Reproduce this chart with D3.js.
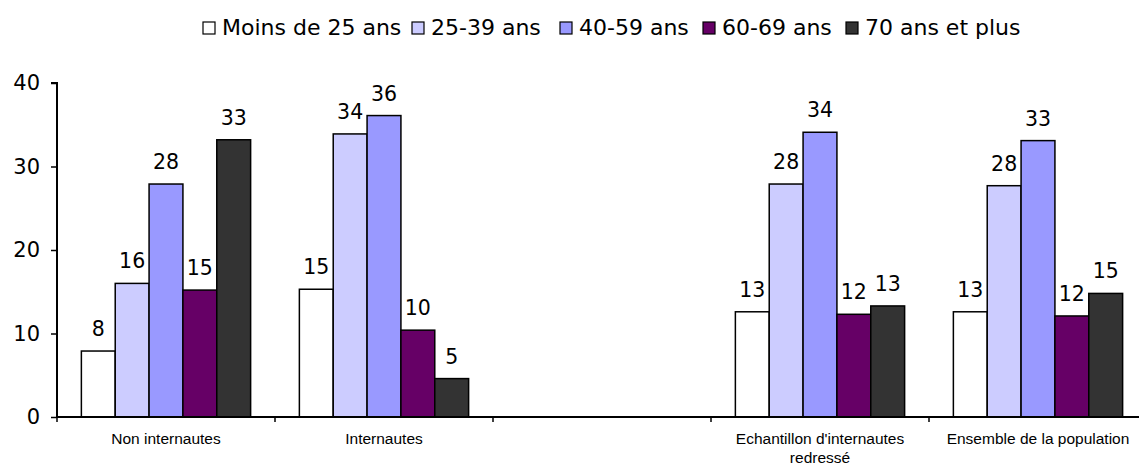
<!DOCTYPE html>
<html>
<head>
<meta charset="utf-8">
<script src="https://cdn.jsdelivr.net/npm/d3@7/dist/d3.min.js"></script>
<style>
  html, body { margin: 0; padding: 0; background: #fff; }
  svg { display: block; }
</style>
</head>
<body>
<svg id="chart" width="1139" height="466"></svg>
<script>
// Répartition par âge (%) selon le groupe
const categories = ["Non internautes", "Internautes", "", "Echantillon d'internautes redressé", "Ensemble de la population"];
const seriesNames = ["Moins de 25 ans", "25-39 ans", "40-59 ans", "60-69 ans", "70 ans et plus"];
const seriesColors = ["#FFFFFF", "#CCCCFF", "#9999FF", "#660066", "#333333"];

const moins25 = [7.9, 15.3, null, 12.6, 12.6];
const ans25_39 = [16.0, 33.9, null, 27.9, 27.7];
const ans40_59 = [27.9, 36.1, null, 34.1, 33.1];
const ans60_69 = [15.2, 10.4, null, 12.3, 12.1];
const ans70plus = [33.2, 4.6, null, 13.3, 14.8];

const yTicks = [0, 10, 20, 30, 40];

const seriesValues = [moins25, ans25_39, ans40_59, ans60_69, ans70plus];

const svg = d3.select("#chart");
const plot = { left: 57, right: 1147, top: 83, bottom: 417 };

const x = d3.scaleBand()
  .domain(d3.range(categories.length))
  .range([plot.left, plot.right])
  .paddingInner(0).paddingOuter(0);

const xs = d3.scaleBand()
  .domain(d3.range(seriesNames.length))
  .range([0, x.bandwidth()])
  .paddingOuter(0.72).paddingInner(0);

const y = d3.scaleLinear().domain([0, 40]).range([plot.bottom, plot.top]);

// Bars
const bars = [];
seriesValues.forEach((vals, s) => {
  vals.forEach((v, c) => {
    if (v !== null) bars.push({ s, c, v });
  });
});

svg.append("g").selectAll("rect")
  .data(bars)
  .join("rect")
  .attr("x", d => x(d.c) + xs(d.s))
  .attr("y", d => y(d.v))
  .attr("width", xs.bandwidth())
  .attr("height", d => y(0) - y(d.v))
  .attr("fill", d => seriesColors[d.s])
  .attr("stroke", "#000")
  .attr("stroke-width", 1.5);

// Value labels
const fmt = d3.format(".0f");
svg.append("g").selectAll("text")
  .data(bars)
  .join("text")
  .attr("x", d => x(d.c) + xs(d.s) + xs.bandwidth() / 2)
  .attr("y", d => y(d.v) - 15)
  .attr("text-anchor", "middle")
  .attr("font-family", "'DejaVu Sans', Verdana, sans-serif")
  .attr("font-size", 20.5)
  .attr("fill", "#000")
  .text(d => fmt(d.v));

// Y axis
const yAxis = svg.append("g")
  .attr("transform", `translate(${plot.left},0)`)
  .call(d3.axisLeft(y).tickValues(yTicks).tickSize(6).tickPadding(11).tickFormat(d3.format("d")));
yAxis.select(".domain").attr("stroke", "#000").attr("stroke-width", 2)
  .attr("d", `M-6,${y(40)}H0V${y(0)}`);
yAxis.selectAll(".tick line").attr("stroke", "#000").attr("stroke-width", 1.5);
yAxis.selectAll(".tick text")
  .attr("font-family", "'DejaVu Sans', Verdana, sans-serif")
  .attr("font-size", 21).attr("fill", "#000");

// X axis: baseline, boundary ticks, centred labels
const xAxisG = svg.append("g");
xAxisG.append("line")
  .attr("x1", plot.left).attr("x2", plot.right)
  .attr("y1", y(0)).attr("y2", y(0))
  .attr("stroke", "#000").attr("stroke-width", 2);

const boundaries = d3.range(categories.length + 1).map(i => plot.left + i * x.bandwidth());
xAxisG.selectAll("line.tick")
  .data(boundaries)
  .join("line")
  .attr("class", "tick")
  .attr("x1", d => d).attr("x2", d => d)
  .attr("y1", y(0)).attr("y2", y(0) + 5)
  .attr("stroke", "#000").attr("stroke-width", 1.5);

const catLabels = xAxisG.selectAll("text")
  .data(categories.map((c, i) => ({ c, i })))
  .join("text")
  .attr("text-anchor", "middle")
  .attr("font-family", "'Liberation Sans', Arial, sans-serif")
  .attr("font-size", 15.5)
  .attr("fill", "#000")
  .attr("x", d => x(d.i) + x.bandwidth() / 2)
  .attr("y", 444);

// Wrap long category names onto several lines
catLabels.each(function(d) {
  const t = d3.select(this);
  const words = d.c.split(/\s+/).filter(w => w.length);
  const maxW = x.bandwidth() - 20;
  let line = [];
  let tspan = t.append("tspan").attr("x", t.attr("x")).attr("dy", 0);
  words.forEach(w => {
    line.push(w);
    tspan.text(line.join(" "));
    if (tspan.node().getComputedTextLength() > maxW && line.length > 1) {
      line.pop();
      tspan.text(line.join(" "));
      line = [w];
      tspan = t.append("tspan").attr("x", t.attr("x")).attr("dy", 19).text(w);
    }
  });
});

// Legend
const legendX = [203, 412, 560, 703, 846];
const legend = svg.append("g");
seriesNames.forEach((name, i) => {
  legend.append("rect")
    .attr("x", legendX[i]).attr("y", 22)
    .attr("width", 12).attr("height", 12)
    .attr("fill", seriesColors[i])
    .attr("stroke", "#000").attr("stroke-width", 1.2);
  legend.append("text")
    .attr("x", legendX[i] + 19).attr("y", 35)
    .attr("font-family", "'DejaVu Sans', Verdana, sans-serif")
    .attr("font-size", 22)
    .attr("fill", "#000")
    .text(name);
});
</script>
</body>
</html>
